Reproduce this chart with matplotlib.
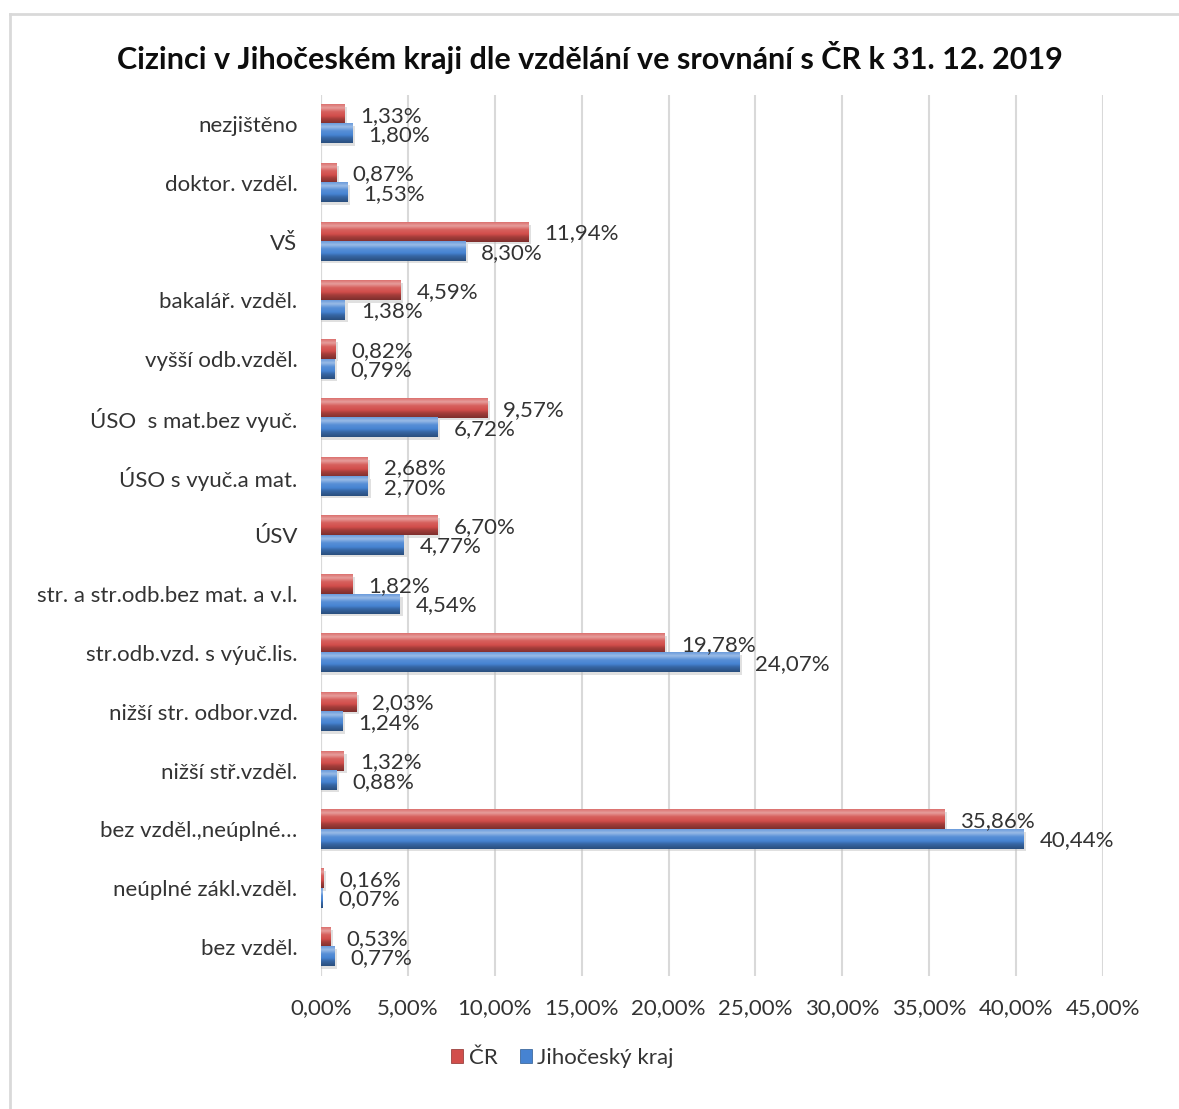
import numpy as np
import matplotlib.pyplot as plt
import matplotlib.colors as mcolors
from matplotlib.patches import Patch
from matplotlib.lines import Line2D

plt.rcParams['font.family'] = ['Lato', 'DejaVu Sans']

# data, top to bottom as in the chart
categories = ['nezjištěno', 'doktor. vzděl.', 'VŠ', 'bakalář. vzděl.', 'vyšší odb.vzděl.',
              'ÚSO  s mat.bez vyuč.', 'ÚSO s vyuč.a mat.', 'ÚSV', 'str. a str.odb.bez mat. a v.l.',
              'str.odb.vzd. s výuč.lis.', 'nižší str. odbor.vzd.', 'nižší stř.vzděl.',
              'bez vzděl.,neúplné…', 'neúplné zákl.vzděl.', 'bez vzděl.']
cr = [1.33, 0.87, 11.94, 4.59, 0.82, 9.57, 2.68, 6.70, 1.82, 19.78, 2.03, 1.32, 35.86, 0.16, 0.53]
jck = [1.80, 1.53, 8.30, 1.38, 0.79, 6.72, 2.70, 4.77, 4.54, 24.07, 1.24, 0.88, 40.44, 0.07, 0.77]
xticks = [0, 5, 10, 15, 20, 25, 30, 35, 40, 45]

# bottom-up order for barh
categories = categories[::-1]
cr = cr[::-1]
jck = jck[::-1]

RED = '#D24E4B'
BLUE = '#4683D2'
TXT = '#333333'
bar_h = 0.33


def gradient(color):
    base = np.array(mcolors.to_rgb(color))
    light = base + (1 - base) * 0.45
    dark = base * 0.6
    stops = [(0.0, base + (1 - base) * 0.2), (0.18, light), (0.38, base + (1 - base) * 0.1),
             (0.6, base), (0.75, base * 0.78), (1.0, dark)]
    t = np.linspace(0, 1, 40)
    rows = []
    for v in t:
        for (p0, c0), (p1, c1) in zip(stops[:-1], stops[1:]):
            if p0 <= v <= p1:
                f = (v - p0) / (p1 - p0)
                rows.append(c0 * (1 - f) + c1 * f)
                break
    return np.clip(np.array(rows), 0, 1)[:, None, :]


def draw_bars(ax, values, offset, color):
    grad = gradient(color)
    ys = np.arange(len(values)) + offset
    # soft shadow
    ax.barh(ys - 0.04, [v + 0.15 if v > 0.1 else 0 for v in values], height=bar_h,
            color='#BBBBBB', alpha=0.45, zorder=2, linewidth=0)
    bars = ax.barh(ys, values, height=bar_h, color=color, zorder=3, linewidth=0)
    for b in bars:
        x0, y0 = b.get_x(), b.get_y()
        w, h = b.get_width(), b.get_height()
        if w <= 0:
            continue
        ax.imshow(grad, extent=[x0, x0 + w, y0, y0 + h], aspect='auto',
                  zorder=4, interpolation='bilinear')
    for y, v in zip(ys, values):
        ax.annotate(f'{v:.2f}%'.replace('.', ','), (v, y), xytext=(11.5, -1),
                    textcoords='offset points', va='center', ha='left',
                    fontsize=16, color=TXT, zorder=5)


fig = plt.figure(figsize=(11.79, 11.09), dpi=100)
ax = fig.add_axes([0.2723, 0.1196, 0.6632, 0.7951])

draw_bars(ax, cr, bar_h / 2, RED)
draw_bars(ax, jck, -bar_h / 2, BLUE)

ax.set_xlim(0, 45)
ax.set_ylim(-0.5, len(categories) - 0.5)
ax.set_xticks(xticks)
ax.set_xticklabels([f'{x:.2f}%'.replace('.', ',') for x in xticks], fontsize=16, color=TXT)
ax.set_yticks(np.arange(len(categories)))
ax.set_yticklabels(categories, fontsize=16, color=TXT)
ax.tick_params(length=0)
ax.tick_params(axis='x', pad=16)
ax.tick_params(axis='y', pad=17)
ax.grid(axis='x', color='#D9D9D9', linewidth=1.5, zorder=0)
ax.set_axisbelow(True)
for s in ax.spines.values():
    s.set_visible(False)
ax.axvline(0, color='#D9D9D9', linewidth=1.5, zorder=1)

fig.text(0.5, 1 - 58 / 1109, 'Cizinci v Jihočeském kraji dle vzdělání ve srovnání s ČR k 31. 12. 2019',
         ha='center', va='center', fontsize=22, fontweight='bold', color='#0D0D0D')

handles = [Patch(facecolor=RED, edgecolor='#8B2E2B', linewidth=0.5),
           Patch(facecolor=BLUE, edgecolor='#2C5A8F', linewidth=0.5)]
fig.legend(handles, ['ČR', 'Jihočeský kraj'], loc='center', bbox_to_anchor=(0.477, 1 - 1058 / 1109),
           ncol=2, frameon=False, fontsize=16, handlelength=0.55, handleheight=0.55,
           handletextpad=0.25, columnspacing=1.0, labelcolor=TXT)

# chart frame (left and top edges visible)
fig.add_artist(Line2D([10 / 1179, 1], [1 - 14 / 1109, 1 - 14 / 1109], color='#D9D9D9', lw=2))
fig.add_artist(Line2D([10 / 1179, 10 / 1179], [0, 1 - 14 / 1109], color='#D9D9D9', lw=2))

fig.savefig('out.png', dpi=100)
